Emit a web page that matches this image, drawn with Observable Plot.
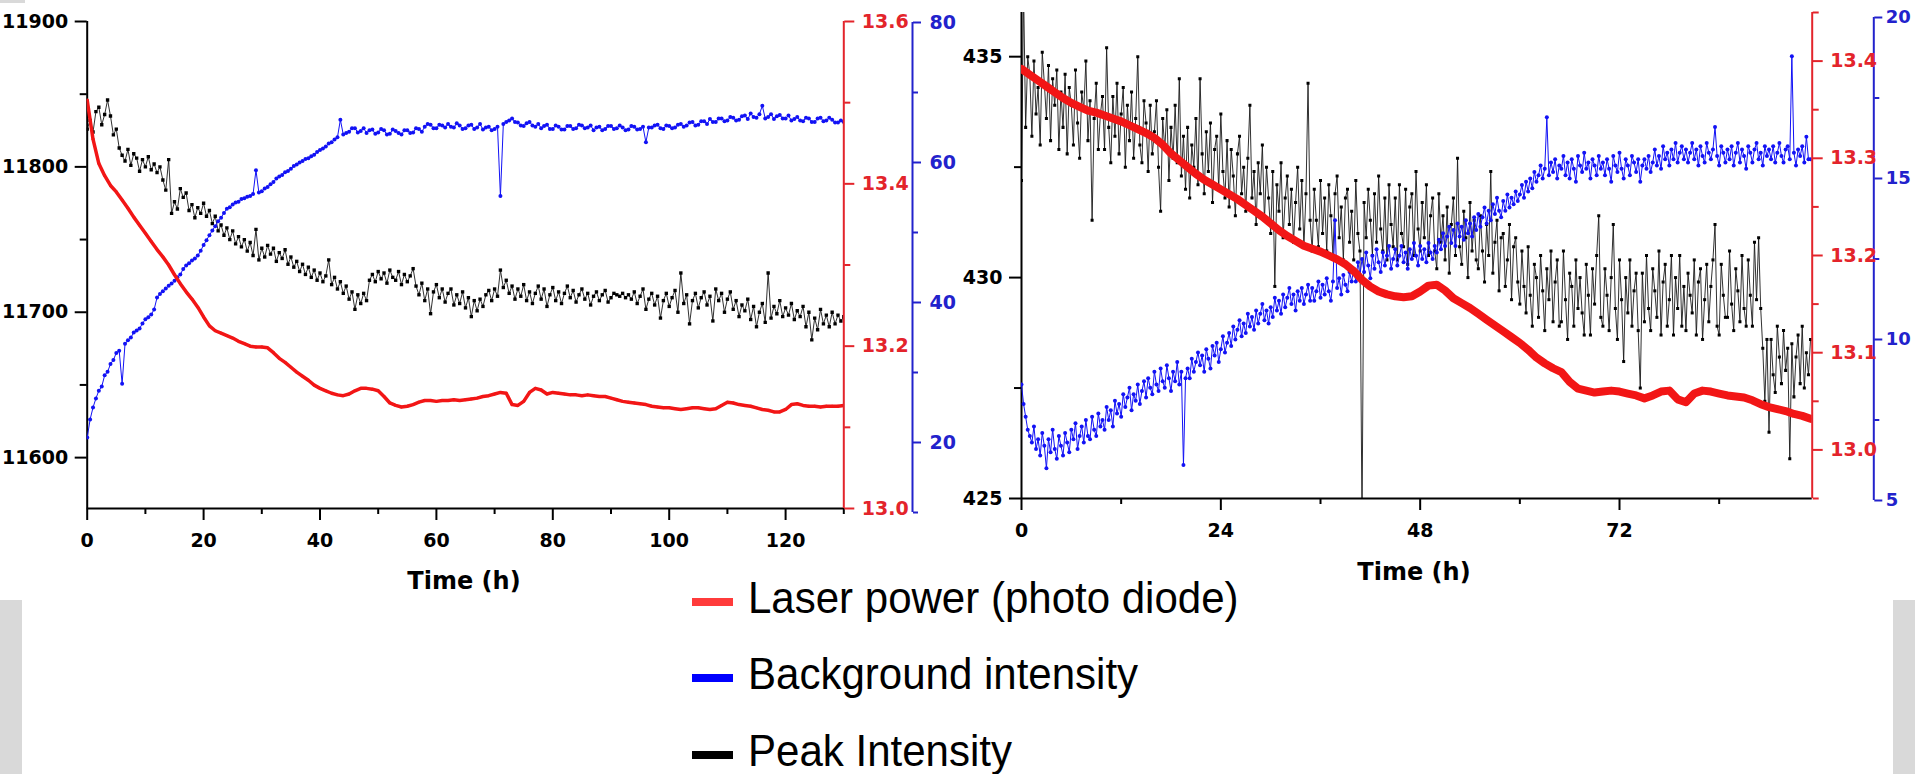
<!DOCTYPE html>
<html>
<head>
<meta charset="utf-8">
<script src="https://cdn.jsdelivr.net/npm/d3@7"></script>
<script src="https://cdn.jsdelivr.net/npm/@observablehq/plot@0.6"></script>
<style>
html, body { margin: 0; padding: 0; background: #ffffff; width: 1915px; height: 774px; overflow: hidden; }
#root { position: relative; width: 1915px; height: 774px; overflow: hidden; }
.layer { position: absolute; top: 0; }
.layer svg { overflow: visible; max-width: none !important; display: block; }
.xlab { position: absolute; font-family: "DejaVu Sans", sans-serif; font-weight: bold; font-size: 24px; line-height: 24px; white-space: nowrap; transform: translateX(-50%); color: #000; }
.leg { position: absolute; font-family: "Liberation Sans", Arial, sans-serif; font-size: 44px; line-height: 44px; white-space: nowrap; color: #000; transform: scaleX(0.955); transform-origin: 0 0; }
.sw { position: absolute; width: 41px; height: 8px; }
.gray { position: absolute; background: #d9d9d9; }
</style>
</head>
<body>
<div id="root"></div>
<script>
// ---------------- DATA ----------------
// Left panel (0-130 h)
const leftPeakStep = 0.5; // h between samples
const leftPeak = [
 11826,11832,11824,11838,11841,11829,11836,11846,11835,11822,
 11826,11813,11808,11804,11812,11801,11809,11806,11797,11805,
 11800,11807,11798,11802,11796,11800,11791,11784,11805,11768,
 11776,11771,11785,11779,11782,11770,11774,11765,11772,11768,
 11775,11766,11770,11761,11766,11756,11760,11753,11758,11750,
 11756,11747,11752,11745,11750,11742,11748,11739,11757,11736,
 11744,11738,11746,11740,11744,11735,11741,11737,11743,11733,
 11738,11731,11735,11728,11733,11726,11731,11724,11729,11722,
 11727,11721,11725,11736,11719,11724,11716,11721,11713,11718,
 11709,11714,11702,11712,11706,11713,11708,11722,11726,11721,
 11728,11723,11727,11720,11729,11724,11722,11728,11719,11726,
 11721,11725,11730,11718,11712,11720,11708,11716,11699,11714,
 11719,11710,11716,11707,11713,11716,11705,11712,11706,11714,
 11703,11710,11697,11708,11701,11709,11704,11712,11715,11708,
 11716,11711,11729,11717,11722,11713,11718,11709,11716,11711,
 11719,11708,11714,11706,11713,11718,11709,11716,11704,11712,
 11717,11708,11714,11706,11713,11718,11710,11715,11707,11712,
 11716,11709,11713,11705,11711,11714,11708,11712,11715,11707,
 11710,11713,11712,11711,11713,11710,11712,11709,11714,11706,
 11711,11716,11702,11709,11713,11705,11711,11696,11708,11713,
 11704,11710,11715,11700,11727,11706,11712,11692,11708,11713,
 11703,11710,11714,11705,11711,11694,11716,11708,11713,11700,
 11709,11714,11702,11708,11697,11705,11701,11709,11695,11704,
 11690,11700,11706,11693,11727,11696,11704,11699,11708,11697,
 11703,11698,11706,11695,11701,11697,11704,11690,11700,11681,
 11696,11688,11702,11692,11698,11690,11700,11692,11698,11694,
 11697
];
const leftLaserStep = 1;
const leftLaser = [
 13.503,13.455,13.425,13.410,13.398,13.390,13.380,13.370,13.359,13.349,
 13.339,13.329,13.319,13.310,13.300,13.288,13.277,13.267,13.258,13.248,
 13.236,13.225,13.219,13.216,13.213,13.210,13.206,13.203,13.200,13.199,
 13.199,13.198,13.192,13.185,13.180,13.174,13.168,13.163,13.158,13.152,
 13.148,13.145,13.142,13.140,13.139,13.141,13.145,13.148,13.148,13.147,
 13.145,13.138,13.130,13.127,13.125,13.126,13.128,13.131,13.133,13.133,
 13.132,13.133,13.133,13.134,13.133,13.134,13.135,13.136,13.138,13.139,
 13.141,13.143,13.142,13.128,13.127,13.132,13.143,13.148,13.146,13.141,
 13.143,13.142,13.141,13.140,13.140,13.139,13.140,13.139,13.138,13.138,
 13.136,13.134,13.132,13.131,13.130,13.129,13.128,13.126,13.125,13.124,
 13.124,13.123,13.122,13.123,13.124,13.124,13.123,13.122,13.123,13.127,
 13.131,13.130,13.128,13.127,13.126,13.124,13.122,13.121,13.119,13.119,
 13.122,13.128,13.129,13.127,13.126,13.126,13.125,13.126,13.126,13.126,
 13.127
];
const leftBackStep = 0.5;
const leftBack = [
 20.7,23.3,25.0,26.3,27.4,28.0,29.6,30.1,31.2,31.8,
 32.8,33.1,28.4,34.1,34.6,35.0,35.7,36.0,36.3,37.0,
 37.6,37.9,38.3,39.0,40.7,41.2,41.6,42.0,42.4,42.7,
 43.1,43.6,44.0,44.8,45.3,45.6,46.0,46.3,46.7,47.4,
 48.2,48.9,49.6,50.3,50.9,51.6,52.1,52.8,53.4,53.6,
 54.0,54.3,54.4,54.8,54.9,55.1,55.2,55.5,58.9,55.7,
 55.9,56.3,56.5,56.9,57.2,57.7,58.0,58.2,58.6,58.8,
 59.1,59.5,59.7,60.0,60.2,60.5,60.6,60.9,61.1,61.5,
 61.8,62.0,62.3,62.7,62.9,63.3,63.6,66.1,64.0,64.2,
 64.4,64.9,64.9,64.3,64.5,64.9,64.2,64.6,64.7,64.1,
 64.3,64.8,64.6,64.0,64.1,64.7,64.5,64.2,64.0,64.6,
 64.6,64.2,64.3,64.9,64.8,64.4,65.1,65.5,65.4,64.9,
 64.9,65.4,65.3,65.0,65.5,65.1,65.0,65.6,65.3,64.8,
 64.9,65.3,65.4,64.8,65.0,65.5,64.7,65.0,65.1,64.6,
 64.8,65.1,55.2,65.5,65.8,66.0,66.3,65.8,65.7,65.3,
 65.2,65.6,65.8,65.3,65.1,65.5,64.9,65.2,65.4,64.8,
 64.8,65.3,65.1,64.7,64.7,65.2,65.2,64.8,64.9,65.4,
 65.3,64.9,65.0,65.3,64.6,65.0,65.1,64.6,64.8,65.2,
 65.2,64.8,64.9,65.3,65.0,64.6,64.7,65.2,65.1,64.7,
 64.8,65.1,62.9,65.0,65.0,65.3,65.4,64.9,64.8,65.3,
 65.2,64.9,65.0,65.4,65.5,65.1,65.3,65.7,65.8,65.3,
 65.4,65.9,65.9,65.5,66.2,65.8,65.8,66.3,66.3,65.9,
 66.0,66.5,66.4,66.0,66.1,66.6,66.7,66.2,67.0,66.5,
 66.4,66.9,68.1,66.3,66.5,66.9,66.2,66.6,66.8,66.3,
 66.3,66.7,66.0,66.2,66.5,66.0,65.9,66.4,66.3,65.8,
 65.8,66.3,66.4,65.9,66.0,66.4,66.1,65.7,65.7,66.0,
 65.8
];

// Right panel (0-95 h)
const rightPeakStep = 0.25;
const rightPeak = [
 432.2,436.5,433.4,435.0,434.6,433.2,434.9,433.7,434.3,433.0,435.1,434.4,433.6,434.8,433.1,434.5,433.9,434.7,432.9,434.2,
 433.4,434.6,432.8,434.3,433.9,433.0,434.7,433.5,432.7,434.2,433.8,434.9,433.1,434.0,431.3,433.6,434.4,432.9,433.7,434.1,
 432.9,435.2,433.4,432.6,434.1,433.2,434.4,432.8,433.7,434.3,432.5,433.9,433.1,434.2,432.7,433.6,435.0,433.0,432.6,434.0,
 433.5,432.4,433.9,432.8,433.3,434.0,432.5,431.5,433.6,432.9,433.8,432.2,433.4,432.7,433.9,432.6,434.5,432.3,433.2,432.0,
 433.4,431.8,433.0,432.5,433.6,432.1,434.5,432.8,431.9,433.3,432.4,433.5,431.7,432.9,433.2,432.0,433.7,432.4,431.8,433.1,
 431.6,432.9,432.3,431.4,432.8,433.2,431.9,432.5,431.5,432.7,433.9,431.8,432.4,431.2,432.6,431.9,433.0,431.3,432.5,431.8,
 431.0,432.4,429.8,432.1,431.5,432.6,430.9,431.8,432.3,431.2,432.0,430.8,431.7,432.5,431.1,432.2,430.7,431.9,434.4,431.3,
 430.6,432.0,431.3,430.7,432.2,431.0,431.8,430.6,432.1,431.4,430.5,431.9,432.3,430.9,431.6,430.4,431.8,432.0,430.8,431.5,
 430.4,432.2,431.0,430.6,424.5,431.7,430.9,432.0,431.3,430.5,431.9,430.8,432.3,431.1,430.6,431.8,430.4,432.1,431.2,430.7,
 431.8,430.4,432.1,431.0,430.7,432.0,430.3,431.6,431.9,430.5,432.4,431.1,430.6,431.7,430.9,432.1,430.5,431.4,431.8,430.6,
 430.2,431.9,430.8,431.4,430.4,431.6,430.1,431.2,431.8,430.5,432.7,430.7,430.3,431.5,430.9,430.0,431.7,430.6,431.3,430.4,
 430.2,431.4,430.6,429.9,431.2,430.5,432.4,430.1,430.8,431.3,429.7,430.9,431.0,429.8,430.4,431.2,429.5,430.7,430.9,429.9,
 429.4,430.6,429.8,429.2,430.7,429.6,428.9,430.3,430.0,429.1,430.5,429.7,428.8,430.2,429.5,430.6,429.0,429.9,430.4,428.9,
 429.0,430.6,429.5,428.6,430.1,429.8,428.9,430.4,429.3,430.0,429.2,428.7,430.3,429.6,428.7,430.2,429.4,430.5,431.4,429.1,
 428.9,430.2,429.6,428.8,430.0,431.2,429.3,428.6,430.4,429.5,428.1,430.0,429.2,430.4,428.9,429.7,430.1,428.8,427.5,430.1,
 429.0,430.5,429.3,428.8,430.2,429.7,429.1,430.6,428.7,429.9,430.3,428.9,429.5,430.5,428.7,430.0,429.3,430.5,428.9,429.8,
 428.8,430.1,429.6,429.2,430.4,428.7,429.9,430.2,428.6,429.5,430.3,429.0,429.8,430.4,431.2,428.9,428.7,430.3,429.6,429.1,
 429.1,430.6,429.4,428.8,430.2,429.7,429.0,430.5,429.3,428.9,430.4,429.6,428.9,430.8,429.5,430.9,429.3,428.4,427.2,428.6,
 426.5,428.6,427.8,427.4,428.9,428.2,427.6,428.8,427.9,428.4,425.9,428.5,427.3,428.2,428.7,427.6,428.9,427.5,428.3,427.8,
 428.6
];
const rightLaserStep = 1;
const rightLaser = [
 13.392,13.386,13.380,13.374,13.368,13.362,13.357,13.353,13.349,13.347,
 13.344,13.341,13.338,13.334,13.330,13.326,13.321,13.314,13.305,13.298,
 13.291,13.284,13.278,13.273,13.268,13.263,13.258,13.252,13.246,13.240,
 13.233,13.226,13.220,13.215,13.210,13.207,13.204,13.200,13.196,13.191,
 13.184,13.175,13.168,13.163,13.160,13.158,13.157,13.158,13.163,13.169,
 13.170,13.164,13.156,13.151,13.146,13.140,13.134,13.128,13.122,13.116,
 13.110,13.103,13.095,13.089,13.084,13.080,13.070,13.063,13.061,13.059,
 13.060,13.061,13.060,13.058,13.056,13.053,13.056,13.060,13.061,13.052,
 13.049,13.058,13.061,13.060,13.058,13.056,13.055,13.054,13.051,13.047,
 13.044,13.042,13.040,13.037,13.035,13.032
];
const rightBackStep = 0.25;
const rightBack = [
 8.6,8.0,7.6,7.2,7.0,6.8,7.3,6.6,6.9,6.4,7.1,6.7,6.0,6.9,6.5,7.2,6.6,6.3,7.0,6.7,
 6.4,7.1,6.8,6.5,7.2,6.9,7.4,6.6,7.0,7.3,6.8,7.5,7.0,6.9,7.6,7.2,7.0,7.7,7.3,7.5,
 7.2,7.9,7.5,7.8,7.3,8.1,7.7,8.0,7.6,8.3,7.9,8.2,8.5,7.8,8.3,8.1,8.6,8.0,8.4,8.7,
 8.2,8.8,8.5,8.3,9.0,8.6,8.4,9.1,8.7,8.5,9.2,8.8,8.4,9.0,8.7,9.3,8.6,9.0,6.1,8.8,
 9.1,8.8,9.4,9.0,9.3,9.6,9.2,9.5,9.0,9.7,9.4,9.1,9.8,9.5,9.9,9.3,9.7,10.1,9.6,9.9,
 10.2,9.8,10.4,10.0,10.3,10.6,10.1,10.5,10.2,10.8,10.4,10.7,10.3,10.9,10.5,10.8,11.1,10.6,10.9,10.5,
 11.0,10.7,11.3,10.9,11.2,10.8,11.4,11.0,11.3,11.6,11.1,11.4,10.9,11.5,11.2,11.6,11.1,11.4,11.7,11.2,
 11.6,11.2,11.5,11.8,11.3,11.7,11.4,11.9,11.5,11.2,11.8,13.7,11.6,11.9,11.4,12.0,11.7,11.5,12.1,11.8,
 12.2,11.8,12.4,12.0,12.5,12.1,12.7,12.3,11.9,12.6,12.2,12.8,12.4,12.1,12.7,12.3,12.6,12.9,12.2,12.5,
 12.8,12.3,12.6,12.9,12.4,12.7,12.2,12.8,12.5,13.0,12.6,12.3,12.9,12.5,12.8,12.4,13.0,12.7,12.5,12.9,
 12.7,13.1,12.8,13.3,12.9,13.2,13.5,13.0,13.4,12.9,13.6,13.2,13.5,13.1,13.7,13.3,13.6,13.2,13.8,13.4,
 13.9,13.5,13.8,14.1,13.6,14.0,13.7,14.2,13.9,14.4,14.0,13.8,14.3,14.0,14.5,14.1,14.4,14.2,14.6,14.3,
 14.5,14.8,14.4,14.9,14.6,15.0,14.7,15.2,14.9,15.1,15.4,15.0,15.3,16.9,15.1,15.5,15.2,15.6,15.0,15.4,
 15.3,15.7,15.1,15.5,15.0,15.6,15.3,14.9,15.7,15.4,15.2,15.8,15.3,15.5,15.0,15.6,15.4,15.1,15.7,15.3,
 15.5,15.1,15.6,15.3,14.9,15.7,15.4,15.2,15.8,15.3,15.0,15.6,15.4,15.1,15.7,15.5,15.2,15.6,14.9,15.4,
 15.6,15.3,15.7,15.2,15.5,15.9,15.4,15.7,15.3,16.0,15.6,15.8,15.4,15.9,15.6,16.1,15.5,15.8,16.0,15.6,
 15.9,15.5,15.8,16.1,15.6,15.9,15.4,16.0,15.7,15.5,16.1,15.8,15.6,15.9,16.6,15.7,15.4,16.0,15.8,15.5,
 15.9,15.6,16.0,15.4,15.8,16.1,15.5,15.9,15.7,15.3,16.0,15.8,15.5,15.9,16.1,15.6,15.8,15.4,16.0,15.7,
 15.9,15.6,16.0,15.5,15.8,16.1,15.7,15.5,15.9,16.0,15.6,18.8,15.8,15.4,15.9,15.7,16.0,15.5,16.3,15.6,
 15.6
];

// Axis tick values
const leftXTicks = [0, 20, 40, 60, 80, 100, 120];
const leftXMinor = [10, 30, 50, 70, 90, 110, 130];
const leftPeakTicks = [11600, 11700, 11800, 11900];
const leftPeakMinor = [11650, 11750, 11850];
const leftLaserTicks = [13.0, 13.2, 13.4, 13.6];
const leftLaserMinor = [13.1, 13.3, 13.5];
const leftBackTicks = [20, 40, 60, 80];
const leftBackMinor = [10, 30, 50, 70];

const rightXTicks = [0, 24, 48, 72];
const rightXMinor = [12, 36, 60, 84];
const rightPeakTicks = [425, 430, 435];
const rightPeakMinor = [427.5, 432.5];
const rightLaserTicks = [13.0, 13.1, 13.2, 13.3, 13.4];
const rightLaserMinor = [12.95, 13.05, 13.15, 13.25, 13.35, 13.45];
const rightBackTicks = [5, 10, 15, 20];
const rightBackMinor = [7.5, 12.5, 17.5];

const legendItems = ["Laser power (photo diode)", "Background intensity", "Peak Intensity"];
const xTitle = "Time (h)";

// ---------------- STYLE ----------------
const RED = "#f21616", REDAX = "#e3242b";
const BLUE = "#1212f5", BLUEAX = "#2222cc";
const BLACK = "#000000";
const FONT = "DejaVu Sans";

const toRows = (vals, step) => vals.map((v, i) => ({t: i * step, v}));
const root = document.getElementById("root");

function addLayer(svg, left, width) {
  const d = document.createElement("div");
  d.className = "layer";
  d.style.left = left + "px";
  d.style.width = width + "px";
  d.appendChild(svg);
  root.appendChild(d);
}

const txt = {fontSize: 19, fontWeight: "bold", fontFamily: FONT, label: null};

function panel(cfg) {
  const base = {
    width: cfg.width, height: 600,
    marginLeft: cfg.mL, marginRight: cfg.mR, marginTop: cfg.mT, marginBottom: 600 - cfg.bottom,
    style: {background: "transparent", overflow: "visible"}
  };
  const xMax = cfg.xDomain[1];
  const peak = Plot.plot({
    ...base,
    x: {domain: cfg.xDomain},
    y: {domain: cfg.peakDomain},
    marks: [
      Plot.line(cfg.peak, {x: "t", y: "v", stroke: "#1a1a1a", strokeWidth: 0.9, clip: true}),
      Plot.dot(cfg.peak, {x: "t", y: "v", symbol: "square", r: cfg.peakR, fill: BLACK, stroke: "none", clip: true}),
      Plot.ruleX([0], {stroke: BLACK, strokeWidth: 2}),
      Plot.ruleY([cfg.peakDomain[0]], {stroke: BLACK, strokeWidth: 2}),
      Plot.axisY(cfg.peakTicks, {anchor: "left", tickSize: 12, tickPadding: 7, strokeWidth: 2, stroke: BLACK, fill: BLACK, tickFormat: d => String(d), ...txt}),
      Plot.axisY(cfg.peakMinor, {anchor: "left", tickSize: 7, strokeWidth: 2, stroke: BLACK, tickFormat: () => "", label: null}),
      Plot.axisX(cfg.xTicks, {anchor: "bottom", tickSize: 12, tickPadding: 13, strokeWidth: 2, stroke: BLACK, fill: BLACK, tickFormat: d => String(d), ...txt}),
      Plot.axisX(cfg.xMinor, {anchor: "bottom", tickSize: 6, strokeWidth: 2, stroke: BLACK, tickFormat: () => "", label: null})
    ]
  });
  const back = Plot.plot({
    ...base,
    x: {domain: cfg.xDomain, axis: null},
    y: {domain: cfg.backDomain, range: cfg.backRange},
    marks: [
      Plot.line(cfg.back, {x: "t", y: "v", stroke: BLUE, strokeWidth: 1, clip: true}),
      Plot.dot(cfg.back, {x: "t", y: "v", r: 2, fill: BLUE, stroke: "none", clip: true}),
      Plot.ruleX([xMax], {y1: cfg.backDomain[0], y2: cfg.backDomain[1], dx: cfg.blueDx, stroke: BLUEAX, strokeWidth: 2}),
      Plot.axisY(cfg.backTicks, {anchor: "right", dx: cfg.blueDx, tickSize: 8, tickPadding: cfg.bluePad, strokeWidth: 2, stroke: BLUEAX, fill: BLUEAX, tickFormat: d => String(d), ...txt, fontSize: cfg.blueFont}),
      Plot.axisY(cfg.backMinor, {anchor: "right", dx: cfg.blueDx, tickSize: 5, strokeWidth: 2, stroke: BLUEAX, tickFormat: () => "", label: null})
    ]
  });
  const laser = Plot.plot({
    ...base,
    x: {domain: cfg.xDomain, axis: null},
    y: {domain: cfg.laserDomain},
    marks: [
      Plot.line(cfg.laser, {x: "t", y: "v", stroke: RED, strokeWidth: cfg.laserWidth, strokeLinejoin: "round", clip: true}),
      Plot.dot(cfg.laser, {x: "t", y: "v", r: 1.4, fill: RED, stroke: "none", clip: true}),
      Plot.ruleX([xMax], {stroke: REDAX, strokeWidth: 2}),
      Plot.axisY(cfg.laserTicks, {anchor: "right", tickSize: 10, tickPadding: 8, strokeWidth: 2, stroke: REDAX, fill: REDAX, tickFormat: d3.format(".1f"), ...txt}),
      Plot.axisY(cfg.laserMinor, {anchor: "right", tickSize: 6, strokeWidth: 2, stroke: REDAX, tickFormat: () => "", label: null})
    ]
  });
  for (const s of [peak, back, laser]) addLayer(s, cfg.left, cfg.width);
}

panel({
  left: 0, width: 1000, mL: 86.7, mR: 1000 - 843.3, mT: 21, bottom: 508,
  xDomain: [0, 130], xTicks: leftXTicks, xMinor: leftXMinor,
  peak: toRows(leftPeak, leftPeakStep), peakDomain: [11565, 11900], peakTicks: leftPeakTicks, peakMinor: leftPeakMinor, peakR: 1.9,
  laser: toRows(leftLaser, leftLaserStep), laserDomain: [13.0, 13.6], laserTicks: leftLaserTicks, laserMinor: leftLaserMinor, laserWidth: 3.5,
  back: toRows(leftBack, leftBackStep), backDomain: [10, 80], backRange: [512, 22], backTicks: leftBackTicks, backMinor: leftBackMinor,
  blueDx: 912 - 843.3, bluePad: 9, blueFont: 19
});

panel({
  left: 940, width: 975, mL: 1021 - 940, mR: 975 - (1811.7 - 940), mT: 12, bottom: 498,
  xDomain: [0, 95.2], xTicks: rightXTicks, xMinor: rightXMinor,
  peak: toRows(rightPeak, rightPeakStep), peakDomain: [425, 436], peakTicks: rightPeakTicks, peakMinor: rightPeakMinor, peakR: 1.7,
  laser: toRows(rightLaser, rightLaserStep), laserDomain: [12.95, 13.45], laserTicks: rightLaserTicks, laserMinor: rightLaserMinor, laserWidth: 8,
  back: toRows(rightBack, rightBackStep), backDomain: [5, 20], backRange: [500, 17], backTicks: rightBackTicks, backMinor: rightBackMinor,
  blueDx: 1873.3 - 1811.7, bluePad: 4, blueFont: 18
});

// x-axis titles
for (const [cx, top] of [[464, 569], [1414, 560]]) {
  const d = document.createElement("div");
  d.className = "xlab";
  d.style.left = cx + "px";
  d.style.top = top + "px";
  d.textContent = xTitle;
  root.appendChild(d);
}

// legend
const legendColors = ["#ff3b3b", "#0000ff", "#000000"];
const legendBaselines = [613, 689, 766];
legendItems.forEach((name, i) => {
  const sw = document.createElement("div");
  sw.className = "sw";
  sw.style.left = "692px";
  sw.style.top = (legendBaselines[i] - 15) + "px";
  sw.style.background = legendColors[i];
  root.appendChild(sw);
  const t = document.createElement("div");
  t.className = "leg";
  t.style.left = "748px";
  t.style.top = (legendBaselines[i] - 37.2) + "px";
  t.textContent = name;
  root.appendChild(t);
});

// slide artefacts (grey bars at edges)
for (const [l, t, w, h] of [[0, 600, 22, 174], [1893, 600, 22, 174], [0, 0, 25, 3]]) {
  const g = document.createElement("div");
  g.className = "gray";
  Object.assign(g.style, {left: l + "px", top: t + "px", width: w + "px", height: h + "px"});
  root.appendChild(g);
}
</script>
</body>
</html>
